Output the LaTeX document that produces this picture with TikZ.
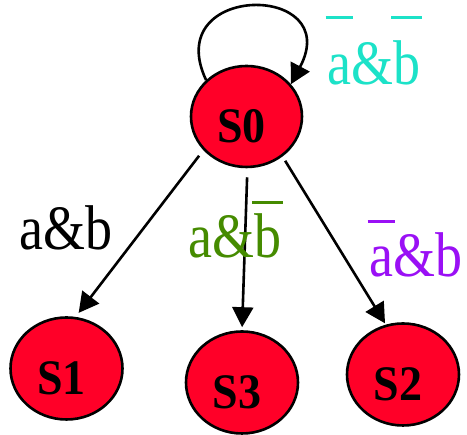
\documentclass[tikz,border=0pt]{standalone}
\usepackage{fontspec}
\setmainfont{Liberation Serif}
\usepackage{graphicx}
\usepackage{xcolor}
\definecolor{statered}{HTML}{FF0028}
\definecolor{cyanlbl}{HTML}{1CE2C8}
\definecolor{greenlbl}{HTML}{458B00}
\definecolor{purplelbl}{HTML}{9A10F5}
\usetikzlibrary{arrows.meta,shapes.geometric}
\newcommand{\negbar}[2][0.85em]{\mbox{\sbox0{#2}\rlap{\hspace*{-2pt}\raisebox{#1}{\rule{\dimexpr\wd0+4pt\relax}{0.05em}}}\usebox0}}
\newcommand{\tallt}[1]{\scalebox{1}[1.17]{#1}}
\newcommand{\stname}[1]{\raisebox{-10pt}[\height][\depth]{\scalebox{1}[1.08]{#1}}\hspace*{10pt}}

\begin{document}
\begin{tikzpicture}[x=1pt, y=1pt,
    state/.style={ellipse, draw=black, line width=2.6pt, fill=statered,
                  minimum width=112pt, minimum height=102pt, inner sep=0pt,
                  font=\bfseries\fontsize{46}{46}\selectfont},
    lbl/.style={anchor=base, inner sep=0pt, font=\fontsize{54}{54}\selectfont},
    arr/.style={-{Triangle[length=20pt,width=21pt]}, line width=2.6pt}]
  \useasboundingbox (0,0) rectangle (467,435);
  \node[state, minimum width=111pt, minimum height=101pt] (s0) at (246.5,318.5) {\stname{S0}};
  \node[state] (s1) at (66.5,66.5)  {\stname{S1}};
  \node[state] (s3) at (242,52.5)   {\stname{S3}};
  \node[state] (s2) at (403,60.5)   {\stname{S2}};
  % transitions
  \draw[arr] (s0.138) .. controls +(-46,98) and +(54,102) .. (s0.36);
  \draw[arr, shorten <=7pt, shorten >=5pt] (s0.218) -- (s1.80);
  \draw[arr, shorten <=9pt, shorten >=3pt] (s0.271) -- (s3.90);
  \draw[arr, shorten <=5pt, shorten >=1.5pt] (s0.312) -- (s2.109);
  % conditions
  \node[lbl, text=cyanlbl] (c00) at (374,350) {\tallt{\negbar[1.04em]{a}\&\negbar[1.04em]{b}}};
  \node[lbl] (c01) at (66,185) {\tallt{a\&b}};
  \node[lbl, text=greenlbl] (c03) at (235,177) {\tallt{a\&\negbar{b}}};
  \node[lbl, text=purplelbl] (c02) at (416,158) {\tallt{\negbar{a}\&b}};
\end{tikzpicture}
\end{document}
